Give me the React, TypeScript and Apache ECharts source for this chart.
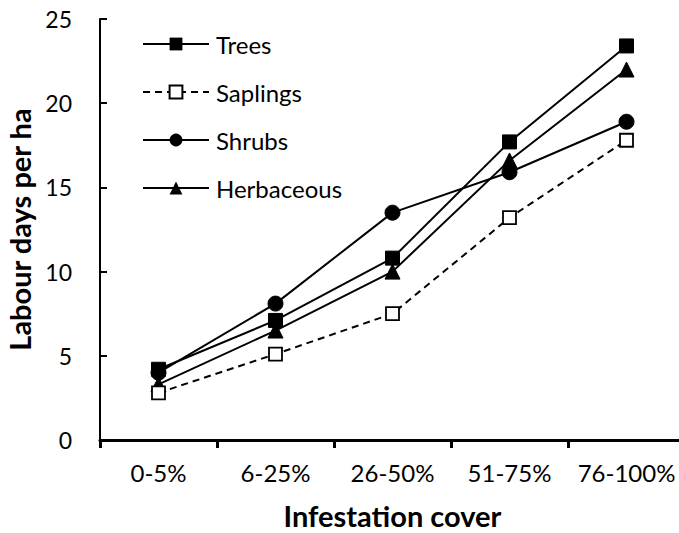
import React, { useEffect, useRef } from "react";
import * as echarts from "echarts";

const categories = ["0-5%", "6-25%", "26-50%", "51-75%", "76-100%"];
const trees = [4.2, 7.1, 10.8, 17.7, 23.4];
const saplings = [2.8, 5.1, 7.5, 13.2, 17.8];
const shrubs = [4.0, 8.1, 13.5, 15.9, 18.9];
const herbaceous = [3.3, 6.5, 10.0, 16.6, 22.0];

const FONT = "Lato";

export default function App() {
  const ref = useRef<HTMLDivElement>(null);
  useEffect(() => {
    document.body.style.margin = "0";
    const chart = echarts.init(ref.current!, null, { renderer: "svg" });
    const lineBase = { color: "#000", width: 2 };
    chart.setOption({
      animation: false,
      backgroundColor: "#fff",
      textStyle: { fontFamily: FONT, color: "#000" },
      grid: {
        left: 100,
        width: 585,
        top: 19,
        height: 421,
        containLabel: false,
        outerBoundsMode: "none",
      },
      legend: {
        orient: "vertical",
        left: 137,
        top: 27,
        itemWidth: 66,
        itemHeight: 16,
        itemGap: 24,
        textStyle: {
          fontFamily: FONT,
          fontSize: 24,
          color: "#000",
          padding: [0, 0, 0, 2],
        },
        data: ["Trees", "Saplings", "Shrubs", "Herbaceous"],
      },
      xAxis: {
        type: "category",
        data: categories,
        boundaryGap: true,
        axisLine: { lineStyle: { color: "#000", width: 3 } },
        axisTick: { show: true, interval: 0, length: 8, lineStyle: { color: "#000", width: 3 } },
        axisLabel: { interval: 0, fontFamily: FONT, fontSize: 24, color: "#000", margin: 20 },
        name: "Infestation cover",
        nameLocation: "middle",
        nameGap: 61,
        nameTextStyle: { fontFamily: FONT, fontSize: 29, fontWeight: "bold", color: "#000" },
      },
      yAxis: {
        type: "value",
        min: 0,
        max: 25,
        interval: 5,
        splitLine: { show: false },
        axisLine: { show: true, lineStyle: { color: "#000", width: 2 } },
        axisTick: { show: true, inside: true, length: 7, lineStyle: { color: "#000", width: 2 } },
        axisLabel: { fontFamily: FONT, fontSize: 23, color: "#000", margin: 28 },
        name: "Labour days per ha",
        nameLocation: "middle",
        nameRotate: 90,
        nameGap: 64,
        nameTextStyle: { fontFamily: FONT, fontSize: 29, fontWeight: "bold", color: "#000" },
      },
      series: [
        {
          name: "Trees",
          type: "line",
          data: trees,
          symbol: "rect",
          symbolSize: 14,
          lineStyle: { ...lineBase },
          itemStyle: { color: "#000", borderColor: "#000" },
          z: 4,
        },
        {
          name: "Saplings",
          type: "line",
          data: saplings,
          symbol: "rect",
          symbolSize: 13,
          lineStyle: { ...lineBase, type: [7, 5] },
          itemStyle: { color: "#fff", borderColor: "#000", borderWidth: 1.8 },
          z: 3,
        },
        {
          name: "Shrubs",
          type: "line",
          data: shrubs,
          symbol: "circle",
          symbolSize: 15,
          lineStyle: { ...lineBase },
          itemStyle: { color: "#000", borderColor: "#000" },
          z: 2,
        },
        {
          name: "Herbaceous",
          type: "line",
          data: herbaceous,
          symbol: "triangle",
          symbolSize: 15,
          lineStyle: { ...lineBase },
          itemStyle: { color: "#000", borderColor: "#000" },
          z: 1,
        },
      ],
    });
    return () => chart.dispose();
  }, []);
  return <div ref={ref} style={{ width: 679, height: 533 }} />;
}
